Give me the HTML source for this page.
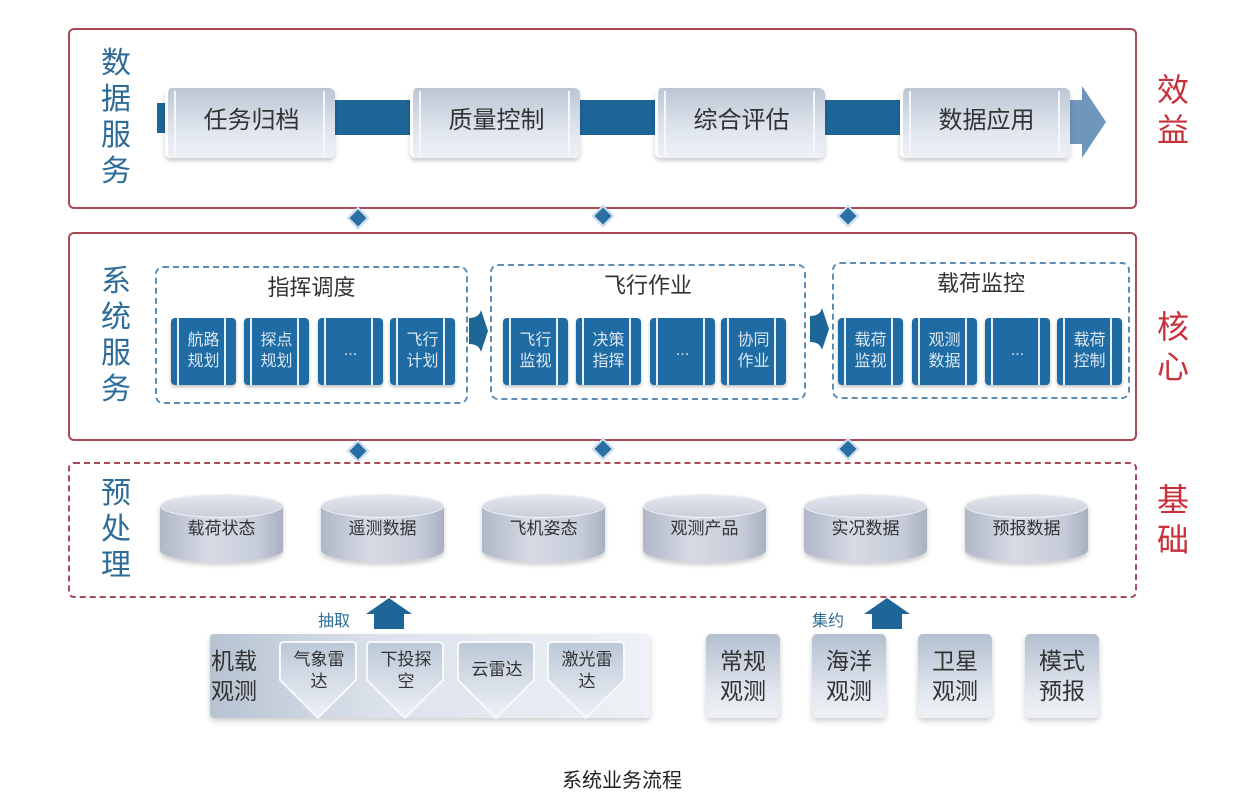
<!DOCTYPE html>
<html><head><meta charset="utf-8">
<style>
*{margin:0;padding:0;box-sizing:border-box}
body{width:1244px;height:812px;background:#fff;position:relative;overflow:hidden;font-family:"Liberation Sans","Noto Sans CJK SC",sans-serif}
.a{position:absolute}
.frame{position:absolute;border:2px solid #a84a55;border-radius:6px}
.vl{position:absolute;color:#2d6c98;font-size:30px;line-height:36px;width:36px;text-align:center}
.rl{position:absolute;color:#c8303a;font-size:32px;line-height:40px;width:40px;text-align:center}
.tb{position:absolute;height:70px;top:88px;width:170px;border-radius:6px;background:linear-gradient(180deg,#bcc6d4 0%,#dfe5ee 60%,#eef1f6 100%);box-shadow:0 3px 5px rgba(0,0,0,.2);font-size:24px;color:#333;text-align:center;line-height:66px;border-left:3px solid #fff;}
.tb:before{content:"";position:absolute;left:6px;top:3px;bottom:3px;width:2px;background:#f4f6f9}
.tb:after{content:"";position:absolute;right:10px;top:3px;bottom:3px;width:2px;background:#f4f6f9}
.bar{position:absolute;top:100px;height:35px;background:#1e6698}
.grp{position:absolute;border:2px dashed #5d8db5;border-radius:8px}
.gt{position:absolute;font-size:22px;color:#333;text-align:center}
.tile{position:absolute;width:65px;height:67px;top:318px;background:#1f6ba3;border-radius:4px;color:#dbe8f3;font-size:16px;line-height:21px;text-align:center;padding-top:12px;box-shadow:0 2px 3px rgba(0,0,0,.25)}
.tile:before{content:"";position:absolute;left:6px;top:0;bottom:0;width:2px;background:#e8f0f7}
.tile:after{content:"";position:absolute;right:10px;top:0;bottom:0;width:2px;background:#e8f0f7}
.dm{position:absolute;width:16px;height:16px;background:#2a6fa3;transform:rotate(45deg);border:2px solid #cfdff0}
.cyl{position:absolute;width:123px;height:68px;top:494px;border-radius:60px/12px;background:linear-gradient(90deg,#b0b7c6,#d6dbe5 40%,#c6ccd8 80%,#a9b0c0);box-shadow:0 3px 5px rgba(0,0,0,.2);font-size:17px;color:#333;text-align:center;line-height:70px}
.cyl:before{content:"";position:absolute;left:0;right:0;top:0;height:22px;border-radius:50%;background:linear-gradient(180deg,#e3e7ee,#c9cfd9);border:1px solid #f4f5f8}
.cyl span{position:relative}
.ob{position:absolute;top:634px;width:74px;height:84px;border-radius:5px;background:linear-gradient(180deg,#b3bfcf,#e2e7ef 70%,#eef1f5);box-shadow:0 3px 6px rgba(0,0,0,.2);font-size:23px;line-height:30px;color:#333;text-align:center;padding-top:12px}
.pent{position:absolute;top:641px;width:78px;height:76px}
.pent div{position:absolute;left:0;right:0;top:8px;font-size:17px;line-height:22px;color:#333;text-align:center}
.up{position:absolute;width:0;height:0}
</style></head><body>

<!-- top frame -->
<div class="frame" style="left:68px;top:28px;width:1069px;height:181px"></div>
<div class="vl" style="left:98px;top:46px">数<br>据<br>服<br>务</div>
<div class="rl" style="left:1153px;top:70px">效<br>益</div>
<div class="bar" style="left:157px;width:10px;top:103px;height:30px"></div>
<div class="bar" style="left:335px;width:78px"></div>
<div class="bar" style="left:580px;width:78px"></div>
<div class="bar" style="left:825px;width:78px"></div>
<svg class="a" style="left:1068px;top:84px" width="42" height="76"><path d="M0 16 H14 V2 L38 38 L14 74 V60 H0Z" fill="#6f97bc"/></svg>
<div class="tb" style="left:165px">任务归档</div>
<div class="tb" style="left:410px">质量控制</div>
<div class="tb" style="left:655px">综合评估</div>
<div class="tb" style="left:900px">数据应用</div>

<div class="dm" style="left:350px;top:210px"></div>
<div class="dm" style="left:595px;top:208px"></div>
<div class="dm" style="left:840px;top:208px"></div>

<!-- middle frame -->
<div class="frame" style="left:68px;top:232px;width:1069px;height:209px"></div>
<div class="vl" style="left:98px;top:264px">系<br>统<br>服<br>务</div>
<div class="rl" style="left:1153px;top:307px">核<br>心</div>

<div class="grp" style="left:155px;top:266px;width:313px;height:138px"></div>
<div class="gt" style="left:155px;top:270px;width:313px">指挥调度</div>
<div class="tile" style="left:171px">航路<br>规划</div>
<div class="tile" style="left:244px">探点<br>规划</div>
<div class="tile" style="left:318px;padding-top:22px">...</div>
<div class="tile" style="left:390px">飞行<br>计划</div>

<svg class="a" style="left:469px;top:310px" width="20" height="42"><path d="M0 8 Q10 8 12 0 L19 21 L12 42 Q10 34 0 34Z" fill="#1e6698"/></svg>

<div class="grp" style="left:490px;top:264px;width:316px;height:136px"></div>
<div class="gt" style="left:490px;top:268px;width:316px">飞行作业</div>
<div class="tile" style="left:503px">飞行<br>监视</div>
<div class="tile" style="left:576px">决策<br>指挥</div>
<div class="tile" style="left:650px;padding-top:22px">...</div>
<div class="tile" style="left:721px">协同<br>作业</div>

<svg class="a" style="left:810px;top:308px" width="20" height="42"><path d="M0 8 Q10 8 12 0 L19 21 L12 42 Q10 34 0 34Z" fill="#1e6698"/></svg>

<div class="grp" style="left:832px;top:262px;width:298px;height:137px"></div>
<div class="gt" style="left:832px;top:266px;width:298px">载荷监控</div>
<div class="tile" style="left:838px">载荷<br>监视</div>
<div class="tile" style="left:912px">观测<br>数据</div>
<div class="tile" style="left:985px;padding-top:22px">...</div>
<div class="tile" style="left:1057px">载荷<br>控制</div>

<div class="dm" style="left:350px;top:443px"></div>
<div class="dm" style="left:595px;top:441px"></div>
<div class="dm" style="left:840px;top:441px"></div>

<!-- bottom dashed frame -->
<div class="a" style="left:68px;top:462px;width:1069px;height:136px;border:2px dashed #a84a55;border-radius:6px"></div>
<div class="vl" style="left:98px;top:476px">预<br>处<br>理</div>
<div class="rl" style="left:1153px;top:480px">基<br>础</div>

<div class="cyl" style="left:160px"><span>载荷状态</span></div>
<div class="cyl" style="left:321px"><span>遥测数据</span></div>
<div class="cyl" style="left:482px"><span>飞机姿态</span></div>
<div class="cyl" style="left:643px"><span>观测产品</span></div>
<div class="cyl" style="left:804px"><span>实况数据</span></div>
<div class="cyl" style="left:965px"><span>预报数据</span></div>

<!-- arrows -->
<svg class="a" style="left:366px;top:598px" width="46" height="32"><path d="M0 16 L23 0 L46 16 H38 V31 H8 V16Z" fill="#1e6698"/></svg>
<div class="a" style="left:318px;top:607px;font-size:16px;color:#2d6c98">抽取</div>
<svg class="a" style="left:864px;top:598px" width="46" height="32"><path d="M0 16 L23 0 L46 16 H38 V31 H8 V16Z" fill="#1e6698"/></svg>
<div class="a" style="left:812px;top:607px;font-size:16px;color:#2d6c98">集约</div>

<!-- airborne panel -->
<div class="a" style="left:210px;top:634px;width:440px;height:84px;border-radius:4px;background:linear-gradient(90deg,#b7c3d2,#dde3ec 40%,#eef1f6);box-shadow:0 3px 6px rgba(0,0,0,.2)"></div>
<div class="a" style="left:211px;top:646px;font-size:23px;line-height:30px;color:#333">机载<br>观测</div>
<svg class="a" style="left:278px;top:640px" width="360" height="80">
<defs><linearGradient id="g" x1="0" y1="0" x2="0" y2="1"><stop offset="0" stop-color="#bcc8d7"/><stop offset="1" stop-color="#eef1f6"/></linearGradient></defs>
<g fill="url(#g)" stroke="#f6f8fb" stroke-width="2">
<path d="M2 6 Q2 2 6 2 H74 Q78 2 78 6 V40 L40 78 L2 40Z"/>
<path d="M89 6 Q89 2 93 2 H161 Q165 2 165 6 V40 L127 78 L89 40Z"/>
<path d="M180 6 Q180 2 184 2 H252 Q256 2 256 6 V40 L218 78 L180 40Z"/>
<path d="M270 6 Q270 2 274 2 H342 Q346 2 346 6 V40 L308 78 L270 40Z"/>
</g></svg>
<div class="pent" style="left:280px"><div>气象雷<br>达</div></div>
<div class="pent" style="left:367px"><div>下投探<br>空</div></div>
<div class="pent" style="left:458px"><div style="top:18px">云雷达</div></div>
<div class="pent" style="left:548px"><div>激光雷<br>达</div></div>

<div class="ob" style="left:706px">常规<br>观测</div>
<div class="ob" style="left:812px">海洋<br>观测</div>
<div class="ob" style="left:918px">卫星<br>观测</div>
<div class="ob" style="left:1025px">模式<br>预报</div>

<div class="a" style="left:0;width:1244px;top:764px;text-align:center;font-size:20px;color:#222">系统业务流程</div>
</body></html>
